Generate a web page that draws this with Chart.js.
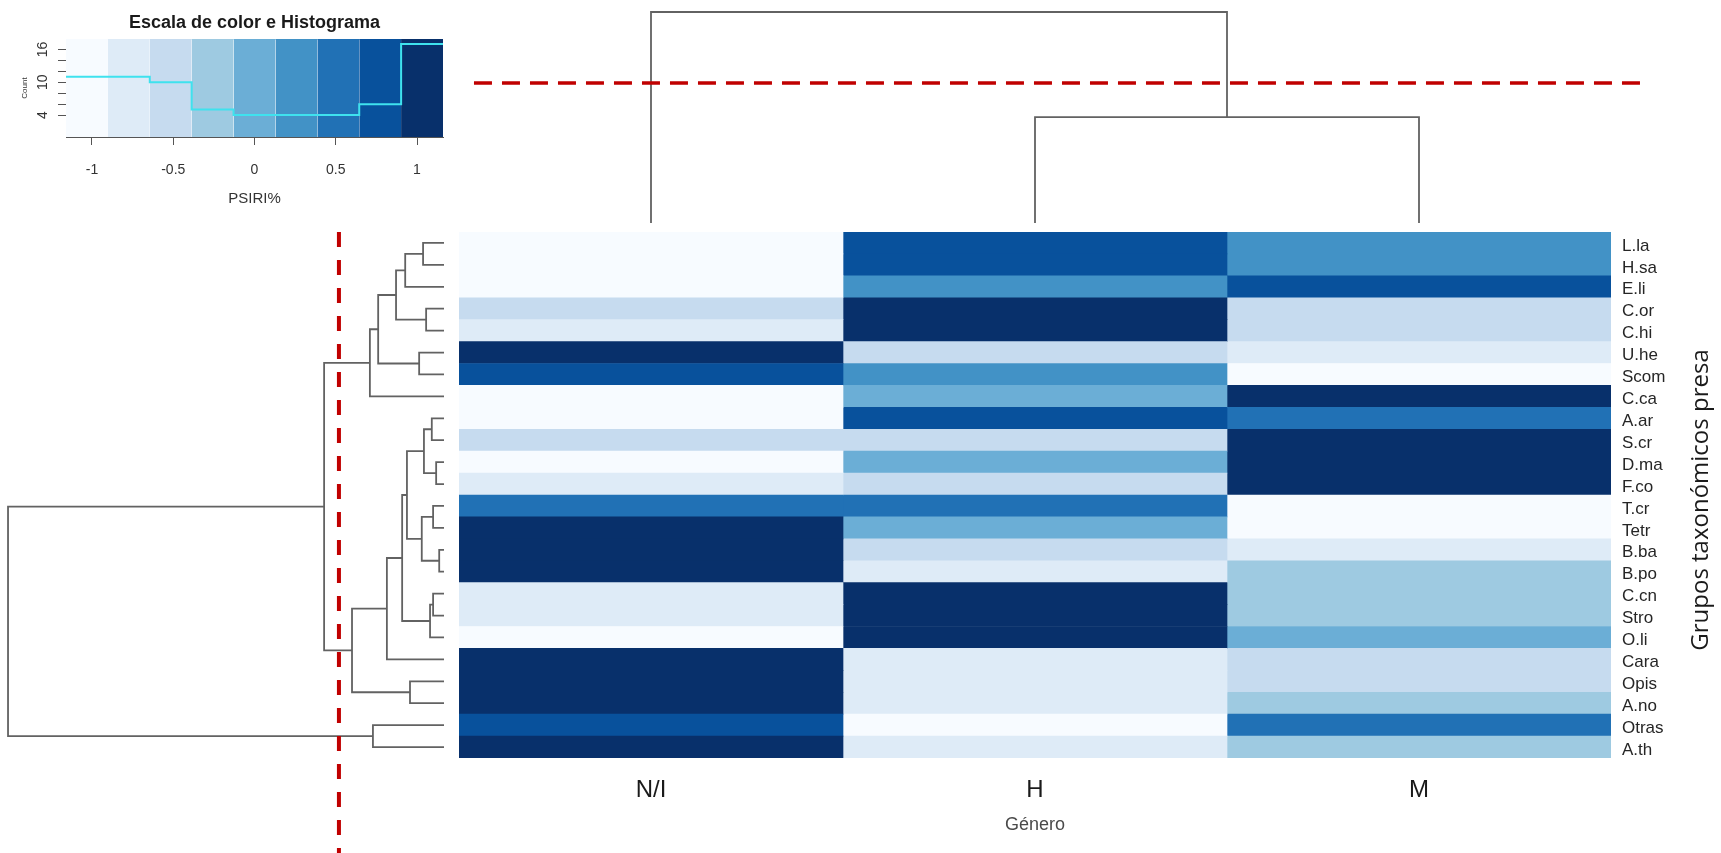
<!DOCTYPE html>
<html lang="es">
<head>
<meta charset="utf-8">
<title>PSIRI% por género</title>
<script src="https://cdn.jsdelivr.net/npm/chart.js@4.4.1/dist/chart.umd.min.js"></script>
<style>
  html, body { margin: 0; padding: 0; background: #fff; }
  #page { position: relative; width: 1721px; height: 853px; overflow: hidden; }
  #page canvas { position: absolute; }
</style>
</head>
<body>
<div id="page">
  <canvas id="colDendro" width="1262" height="232" style="left:459px;top:0"></canvas>
  <canvas id="rowDendro" width="459" height="621" style="left:0;top:232px"></canvas>
  <canvas id="heatmap" width="1262" height="621" style="left:459px;top:232px"></canvas>
  <canvas id="keyChart" width="460" height="210" style="left:0;top:0"></canvas>
</div>
<script>
// Grupos taxonómicos presa (orden de las filas tras el agrupamiento)
const rowLabels = ['L.la', 'H.sa', 'E.li', 'C.or', 'C.hi', 'U.he', 'Scom', 'C.ca', 'A.ar', 'S.cr', 'D.ma', 'F.co',
    'T.cr', 'Tetr', 'B.ba', 'B.po', 'C.cn', 'Stro', 'O.li', 'Cara', 'Opis', 'A.no', 'Otras', 'A.th'];
const colLabels = ['N/I', 'H', 'M'];

// PSIRI% escalado por fila, una lista por género
const psiriNI = [-1.10, -1.12, -1.10, -0.55, -0.70, 1.15, 0.80, -1.10, -1.15, -0.55, -1.08, -0.70,
    0.57, 1.12, 1.15, 1.15, -0.85, -0.80, -1.05, 1.15, 1.15, 1.15, 0.70, 1.15];
const psiriH = [0.80, 0.78, 0.30, 1.15, 1.15, -0.45, 0.30, 0.00, 0.70, -0.60, -0.05, -0.45,
    0.53, -0.02, -0.47, -0.85, 1.15, 1.15, 1.10, -0.70, -0.72, -0.85, -1.15, -0.80];
const psiriM = [0.30, 0.34, 0.80, -0.60, -0.45, -0.70, -1.10, 1.10, 0.45, 1.15, 1.13, 1.15,
    -1.10, -1.10, -0.68, -0.30, -0.30, -0.35, -0.05, -0.45, -0.43, -0.30, 0.45, -0.35];

// Dendrograma de filas (formato hclust: negativo = hoja, positivo = fusión previa)
const rowMerge = [[-1, -2], [1, -3], [-4, -5], [2, 3], [-6, -7], [4, 5], [6, -8], [-9, -10], [-11, -12], [8, 9],
    [-13, -14], [-15, -16], [11, 12], [10, 13], [-17, -18], [15, -19], [14, 16], [17, -20], [-21, -22], [18, 19],
    [7, 20], [-23, -24], [21, 22]];
const rowHeights = [0.048, 0.089, 0.041, 0.110, 0.057, 0.151, 0.170, 0.028, 0.018, 0.046, 0.025, 0.011, 0.051,
    0.085, 0.025, 0.032, 0.096, 0.131, 0.078, 0.211, 0.275, 0.163, 1.0];
const rowCut = 0.241;

// Dendrograma de columnas
const colMerge = [[-2, -3], [-1, 1]];
const colHeights = [0.502, 1.0];
const colCut = 0.664;

// Escala de color (Blues, 9 clases) y marcas de los ejes de la clave
const keyColors = ['#F7FBFF', '#DEEBF7', '#C6DBEF', '#9ECAE1', '#6BAED6', '#4292C6', '#2171B5', '#08519C', '#08306B'];
const keyMin = -1.16;
const keyMax = 1.16;
const keyTicks = [-1, -0.5, 0, 0.5, 1];
const countTicks = [4, 6, 8, 10, 12, 14, 16];
const countLabels = [4, 10, 16];

Chart.defaults.font.family = "'Liberation Sans', Arial, sans-serif";
Chart.defaults.color = '#333';

const binWidth = (keyMax - keyMin) / keyColors.length;
const keyBreaks = keyColors.map((_, i) => keyMin + i * binWidth).concat(keyMax);
const binOf = v => Math.min(keyColors.length - 1, Math.max(0, Math.floor((v - keyMin) / binWidth)));

const columns = [psiriNI, psiriH, psiriM];
const counts = keyColors.map(() => 0);
columns.flat().forEach(v => counts[binOf(v)]++);
const countTop = Math.max(...counts) / 0.95;

const LINE = '#626262';
const CUT = '#c00000';

const baseOptions = {
    responsive: false,
    animation: false,
    events: [],
    layout: { padding: 0 },
    plugins: { legend: { display: false }, tooltip: { enabled: false }, title: { display: false } }
};

function lineSet(points, color, width, extra = {}) {
    return Object.assign({
        data: points, showLine: true, borderColor: color, borderWidth: width,
        pointRadius: 0, pointHoverRadius: 0, fill: false, tension: 0, clip: false
    }, extra);
}

// Segmentos en "U" de cada fusión; la posición de un nodo es la media de sus hijos
function dendroSegments(merge, heights, sideways) {
    const pos = [];
    return merge.map(([a, b], i) => {
        const h = heights[i];
        const ends = [a, b].map(k => k < 0 ? { p: -k - 0.5, h: 0 } : { p: pos[k - 1], h: heights[k - 1] });
        pos[i] = (ends[0].p + ends[1].p) / 2;
        const pts = [[ends[0].h, ends[0].p], [h, ends[0].p], [h, ends[1].p], [ends[1].h, ends[1].p]];
        return pts.map(([hh, pp]) => sideways ? { x: hh, y: pp } : { x: pp, y: hh });
    });
}

// Título vertical a la derecha del mapa, leído de abajo hacia arriba
const sideTitle = {
    id: 'sideTitle',
    afterDraw(chart, args, opts) {
        const { ctx, chartArea } = chart;
        ctx.save();
        ctx.translate(opts.x, (chartArea.top + chartArea.bottom) / 2 + opts.shift);
        ctx.rotate(-Math.PI / 2);
        ctx.font = opts.font;
        ctx.fillStyle = opts.color;
        ctx.textAlign = 'center';
        ctx.textBaseline = 'middle';
        ctx.fillText(opts.text, 0, 0);
        ctx.restore();
    }
};

// Mapa de calor
new Chart(document.getElementById('heatmap'), {
    type: 'bar',
    data: {
        labels: rowLabels,
        datasets: columns.map((vals, c) => ({
            label: colLabels[c],
            data: vals.map(() => [c, c + 1]),
            backgroundColor: vals.map(v => keyColors[binOf(v)]),
            borderWidth: 0,
            barPercentage: 1,
            categoryPercentage: 1,
            grouped: false
        }))
    },
    plugins: [sideTitle],
    options: {
        ...baseOptions,
        indexAxis: 'y',
        plugins: {
            ...baseOptions.plugins,
            sideTitle: { text: 'Grupos taxonómicos presa', x: 1242, shift: 5,
                font: "24px 'Open Sans', sans-serif", color: '#1a1a1a' }
        },
        scales: {
            x: {
                type: 'linear', min: 0, max: colLabels.length, position: 'bottom',
                afterBuildTicks: s => { s.ticks = colLabels.map((_, i) => ({ value: i + 0.5 })); },
                grid: { display: false },
                border: { display: false },
                ticks: { autoSkip: false, maxRotation: 0, padding: 10, font: { size: 24 }, color: '#1a1a1a',
                    callback: (v, i) => colLabels[i] },
                title: { display: true, text: 'Género', font: { size: 18 }, color: '#4a4a4a', padding: { top: 0, bottom: 17 } },
                afterFit: s => { s.height = 95; s.paddingLeft = 0; s.paddingRight = 0; }
            },
            y: {
                type: 'category', position: 'right',
                grid: { display: false },
                border: { display: false },
                ticks: { autoSkip: false, padding: 3, labelOffset: 3, font: { size: 17 }, color: '#262626' },
                afterFit: s => { s.width = 110; s.paddingTop = 0; s.paddingBottom = 0; }
            }
        }
    }
});

// Dendrograma de columnas (arriba)
new Chart(document.getElementById('colDendro'), {
    type: 'scatter',
    data: {
        datasets: [
            lineSet([{ x: 0.039, y: colCut }, { x: 3.081, y: colCut }], CUT, 3.5, { borderDash: [18, 10] }),
            ...dendroSegments(colMerge, colHeights, false).map(seg => lineSet(seg, LINE, 1.8))
        ]
    },
    options: {
        ...baseOptions,
        scales: {
            x: { type: 'linear', display: false, min: 0, max: 1262 / 384 },
            y: { type: 'linear', display: false, min: -0.0427, max: 1.0569 }
        }
    }
});

// Dendrograma de filas (izquierda)
new Chart(document.getElementById('rowDendro'), {
    type: 'scatter',
    data: {
        datasets: [
            lineSet([{ x: rowCut, y: 0 }, { x: rowCut, y: 621 / (526 / 24) }], CUT, 4, { borderDash: [15, 13] }),
            ...dendroSegments(rowMerge, rowHeights, true).map(seg => lineSet(seg, LINE, 1.8))
        ]
    },
    options: {
        ...baseOptions,
        scales: {
            x: { type: 'linear', display: false, reverse: true, min: -0.0344, max: 1.0184 },
            y: { type: 'linear', display: false, reverse: true, min: 0, max: 621 / (526 / 24) }
        }
    }
});

// Escala de color con histograma de frecuencias
new Chart(document.getElementById('keyChart'), {
    type: 'scatter',
    data: {
        datasets: [
            lineSet(keyBreaks.map((b, i) => ({ x: b, y: counts[Math.min(i, counts.length - 1)] })), '#3fe2ee', 2,
                { stepped: 'before', clip: true }),
            ...keyColors.map((c, i) => lineSet([{ x: keyBreaks[i], y: countTop }, { x: keyBreaks[i + 1], y: countTop }],
                c, 1, { fill: 'start', backgroundColor: c, clip: true }))
        ]
    },
    options: {
        ...baseOptions,
        layout: { padding: { left: 0, right: 17, top: 0, bottom: 0 } },
        plugins: {
            ...baseOptions.plugins,
            title: {
                display: true, fullSize: false, text: 'Escala de color e Histograma', color: '#1a1a1a',
                font: { size: 18, weight: 'bold' }, padding: { top: 12, bottom: 5.4 }
            }
        },
        scales: {
            x: {
                type: 'linear', min: keyMin, max: keyMax,
                afterBuildTicks: s => { s.ticks = keyTicks.map(v => ({ value: v })); },
                grid: { drawOnChartArea: false, drawTicks: true, tickLength: 8, color: '#555' },
                border: { display: true, color: '#555' },
                ticks: { maxRotation: 0, padding: 17, font: { size: 14 }, color: '#333', callback: v => String(v) },
                title: { display: true, text: 'PSIRI%', font: { size: 15 }, color: '#333', padding: { top: 0, bottom: 2 } },
                afterFit: s => { s.height = 73; }
            },
            y: {
                type: 'linear', min: 0, max: countTop, position: 'left',
                afterBuildTicks: s => { s.ticks = countTicks.map(v => ({ value: v })); },
                grid: { drawOnChartArea: false, drawTicks: true, tickLength: 8, color: '#555' },
                border: { display: true, color: '#555' },
                ticks: { autoSkip: false, minRotation: 90, maxRotation: 90, crossAlign: 'center', padding: 7,
                    font: { size: 14 }, color: '#333', callback: v => countLabels.includes(v) ? String(v) : '' },
                title: { display: true, text: 'Count', font: { size: 8 }, color: '#333', padding: { top: 20, bottom: 0 } },
                afterFit: s => { s.width = 66; }
            }
        }
    }
});
</script>
</body>
</html>
